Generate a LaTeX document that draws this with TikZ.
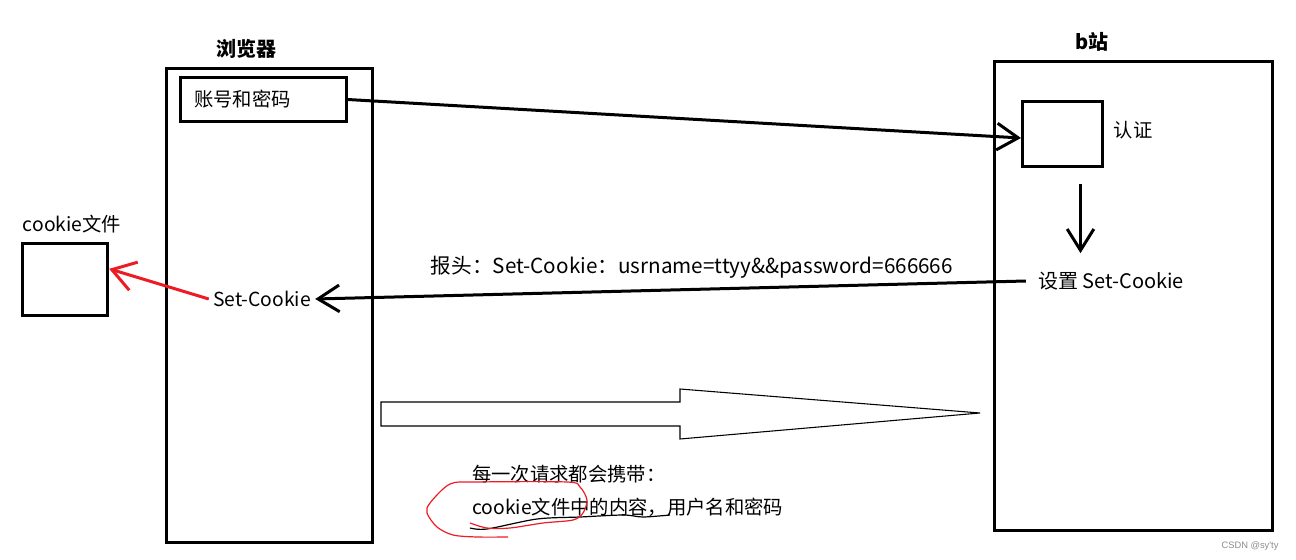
\documentclass[tikz,border=0pt]{standalone}
\usepackage{fontspec}
\setmainfont{Noto Sans CJK SC}
\newfontfamily\markfont{Liberation Sans}
\usetikzlibrary{arrows.meta,calc}
\definecolor{paintred}{RGB}{237,28,36}
\begin{document}
\begin{tikzpicture}[x=0.75pt, y=-0.75pt,
		lbl/.style={font=\fontsize{14.5}{17}\selectfont, inner sep=3pt},
		ttl/.style={font=\fontsize{15}{18}\selectfont\bfseries, inner sep=2pt},
		box/.style={draw, line width=2.25pt},
		arr/.style={line width=2.25pt, -{Straight Barb[length=16pt, width=20pt, line width=2.25pt]}}]
			\useasboundingbox (0,0) rectangle (1296,560);
			% browser side
			\node[box, minimum width=155pt, minimum height=355pt] (browser) at (269.5,305.5) {};
			\node[ttl] (browsertitle) at (246,49) {浏览器};
			\node[box, lbl, align=left, text width=104pt, inner xsep=10pt, minimum height=33pt] (account) at (263.5,99.5) {账号和密码};
			\node[lbl] (bset) at (262,299) {Set-Cookie};
			% cookie file
			\node[box, minimum width=64pt, minimum height=54pt] (cookiebox) at (65,279.5) {};
			\node[lbl] (cookietitle) at (72,224) {cookie文件};
			% b站 side
			\node[box, minimum width=208pt, minimum height=351pt] (site) at (1133.5,296) {};
			\node[ttl] (sitetitle) at (1092,42) {b站};
			\node[box, minimum width=60pt, minimum height=49pt] (auth) at (1062.5,134) {};
			\node[lbl] (authlbl) at (1133,130) {认证};
			\node[lbl, font=\fontsize{15}{17}\selectfont] (setcookie) at (1111,281) {设置 Set-Cookie};
			% connectors
			\draw[arr] (account.east) -- ([yshift=-3pt]auth.west);
			\draw[arr] ($(auth.south)+(18,16)$) -- ($(auth.south)+(18,85)$);
			\draw[arr] ([xshift=-6pt]setcookie.west) -- (bset.east) node[lbl, font=\fontsize{15.5}{17}\selectfont, pos=0.47, above=4pt] (header) {报头：Set-Cookie：usrname=ttyy\&\&password=666666};
			\draw[arr, paintred, -{Straight Barb[length=17pt, width=22pt, line width=2.25pt]}] (bset.west) -- ([yshift=8pt]cookiebox.east);
			% request block arrow
			\draw[line width=0.8pt, line join=miter] (381,402) -- (680,402) -- (680,389) -- (980,413) -- (680,439) -- (680,426) -- (381,426) -- cycle;
			\node[lbl, anchor=west, inner sep=0pt] (req1) at (472,474) {每一次请求都会携带：};
			\node[lbl, anchor=west, inner sep=0pt] (req2) at (472,507) {cookie文件中的内容，用户名和密码};
			% scribbles
			\draw[line width=0.9pt] plot[smooth] coordinates {(470,528) (487,529) (537,519) (580,517) (623,515) (643,517) (670,515)};
			\draw[paintred, line width=0.9pt] plot[smooth] coordinates {(508,537) (477,537) (453,535) (437,527) (427,513) (430,503) (450,484) (477,482) (567,482) (580,487) (587,500) (583,513) (573,520) (543,523) (510,528) (487,528) (470,523)};
			\node[font=\markfont\fontsize{7}{8}\selectfont, text=black!45] (mark) at (1250,546) {CSDN @sy\textquotesingle ty};
		\end{tikzpicture}
\end{document}
